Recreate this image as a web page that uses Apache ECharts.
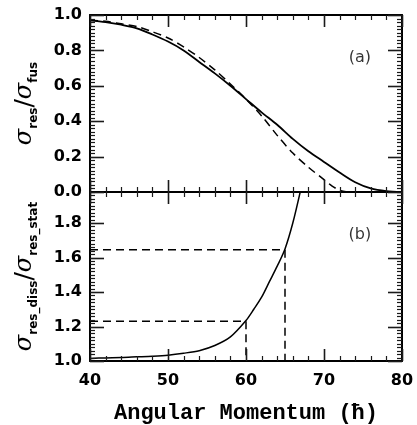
<!DOCTYPE html>
<html><head><meta charset="utf-8">
<script src="https://cdn.jsdelivr.net/npm/echarts@6/dist/echarts.min.js"></script>
<style>html,body{margin:0;padding:0;background:#fff}#c{width:417px;height:425px}</style>
</head><body><div id="c"></div>
<script>
// ---- data ----
const xTicks = [40, 50, 60, 70, 80];
const topYTicks = [0.0, 0.2, 0.4, 0.6, 0.8, 1.0];
const botYTicks = [1.0, 1.2, 1.4, 1.6, 1.8];

const momentumA = [40, 42, 44, 46, 48, 50, 52, 54, 56, 58, 60, 62, 64, 66, 68, 70, 72, 74, 76, 78, 80];
const resSolid  = [0.97, 0.96, 0.945, 0.925, 0.89, 0.85, 0.80, 0.735, 0.67, 0.60, 0.525, 0.45, 0.38, 0.30, 0.23, 0.17, 0.11, 0.055, 0.02, 0.005, 0.0];

const momentumDash = [40, 42, 44, 46, 48, 50, 52, 54, 56, 58, 60, 62, 64, 66, 68, 70, 71, 72, 73];
const resDashed    = [0.97, 0.965, 0.95, 0.935, 0.905, 0.87, 0.82, 0.76, 0.69, 0.61, 0.525, 0.43, 0.32, 0.22, 0.14, 0.07, 0.035, 0.01, 0.0];

const momentumB = [40, 42, 44, 46, 48, 50, 52, 54, 56, 58, 60, 61, 62, 63, 64, 65, 66, 67];
const ratioB    = [1.015, 1.018, 1.02, 1.024, 1.028, 1.034, 1.045, 1.06, 1.09, 1.14, 1.235, 1.30, 1.37, 1.46, 1.55, 1.65, 1.80, 1.99];

const refX = [60, 65];
const refY = [1.23, 1.645];

const panelLabels = ['(a)', '(b)'];
const panelLabelPos = [[74.6, 0.76], [74.6, 1.73]];

// ---- styling ----
const tickFont = {fontFamily: 'DejaVu Sans', fontWeight: 'bold', fontSize: 16, color: '#000'};
const tickColor = '#1a1a1a';

function xAx(gridIndex, position, showLabel, name) {
  const ax = {
    type: 'value', gridIndex, position, min: 40, max: 80, interval: 10,
    axisLine: {show: true, onZero: false, lineStyle: {color: '#000', width: 2}},
    axisTick: {show: false},
    splitLine: {show: false},
    axisLabel: {show: !!showLabel, margin: 12}
  };
  if (showLabel) Object.assign(ax.axisLabel, tickFont);
  if (name) {
    ax.name = name; ax.nameLocation = 'middle'; ax.nameGap = 41;
    ax.nameTextStyle = {fontFamily: 'Liberation Mono', fontWeight: 'bold', fontSize: 22, color: '#000'};
  }
  return ax;
}
function yAx(gridIndex, position, showLabel, min, max, name) {
  const ax = {
    type: 'value', gridIndex, position, min, max, interval: 0.2,
    axisLine: {show: true, onZero: false, lineStyle: {color: '#000', width: 2}},
    axisTick: {show: false},
    splitLine: {show: false},
    axisLabel: {show: !!showLabel, margin: 8}
  };
  if (showLabel) Object.assign(ax.axisLabel, tickFont, {showMaxLabel: max === 1.0, formatter: v => v.toFixed(1)});
  if (name) {
    ax.name = name; ax.nameLocation = 'middle'; ax.nameGap = 50; ax.nameRotate = 90;
    ax.nameTextStyle = {
      color: '#000',
      rich: {
        s: {fontFamily: 'DejaVu Serif', fontStyle: 'italic', fontSize: 24, lineHeight: 30, color: '#000'},
        sl: {fontFamily: 'DejaVu Sans', fontSize: 25, lineHeight: 30, color: '#000'},
        sub: {fontFamily: 'DejaVu Sans', fontWeight: 'bold', fontSize: 12, lineHeight: 13, verticalAlign: 'bottom', color: '#000'}
      }
    };
  }
  return ax;
}

const zip = (xs, ys) => xs.map((x, i) => [x, ys[i]]);
const refLines = refX.map((x, i) => ({
  type: 'line', xAxisIndex: 2, yAxisIndex: 2, symbol: 'none',
  lineStyle: {color: '#000', width: 1.5, type: [8, 5]},
  data: [[40, refY[i]], [x, refY[i]], [x, 1.0]]
}));

const option = {
  animation: false,
  grid: [
    {left: 90, right: 15, top: 15, height: 177},
    {left: 90, right: 15, top: 192, height: 174}
  ],
  xAxis: [
    xAx(0, 'bottom', false),
    xAx(0, 'top', false),
    xAx(1, 'bottom', true, 'Angular Momentum (ħ)'),
    xAx(1, 'top', false)
  ],
  yAxis: [
    yAx(0, 'left', true, 0, 1.0, '{s|σ}{sub|res}{sl|/}{s|σ}{sub|fus}'),
    yAx(0, 'right', false, 0, 1.0),
    yAx(1, 'left', true, 1.0, 1.98, '{s|σ}{sub|res_diss}{sl|/}{s|σ}{sub|res_stat}'),
    yAx(1, 'right', false, 1.0, 1.98)
  ],
  series: [
    {type: 'line', xAxisIndex: 0, yAxisIndex: 0, symbol: 'none', smooth: 0.3,
      lineStyle: {color: '#000', width: 1.8}, data: zip(momentumA, resSolid)},
    {type: 'line', xAxisIndex: 0, yAxisIndex: 0, symbol: 'none', smooth: 0.3,
      lineStyle: {color: '#000', width: 1.5, type: [8, 5]}, data: zip(momentumDash, resDashed)},
    {type: 'line', xAxisIndex: 2, yAxisIndex: 2, symbol: 'none', smooth: 0.3,
      lineStyle: {color: '#000', width: 1.5}, data: zip(momentumB, ratioB)},
    ...refLines,
    {type: 'scatter', xAxisIndex: 0, yAxisIndex: 0, symbolSize: 0, data: [panelLabelPos[0]],
      label: {show: true, position: 'inside', formatter: panelLabels[0], fontFamily: 'DejaVu Sans', fontSize: 16, color: '#000'}},
    {type: 'scatter', xAxisIndex: 2, yAxisIndex: 2, symbolSize: 0, data: [panelLabelPos[1]],
      label: {show: true, position: 'inside', formatter: panelLabels[1], fontFamily: 'DejaVu Sans', fontSize: 16, color: '#000'}}
  ]
};
const chart = echarts.init(document.getElementById('c'));
chart.setOption(option);

// ---- tick marks (decoration), placed through the axes' own scales ----
const X_MINOR_STEP = 2, Y_MINOR_STEP = 0.02;
const marks = [];
function addTicks(xi, yi, yMin, yMax) {
  const px = v => chart.convertToPixel({xAxisIndex: xi}, v);
  const py = v => chart.convertToPixel({yAxisIndex: yi}, v);
  const l = px(40), r = px(80), b = py(yMin), t = py(yMax);
  const line = (x1, y1, x2, y2, w) => marks.push({type: 'line', silent: true, z: 100,
    shape: {x1, y1, x2, y2}, style: {stroke: tickColor, lineWidth: w}});
  const nx = Math.round((80 - 40) / X_MINOR_STEP);
  for (let k = 0; k <= nx; k++) {
    const v = 40 + k * X_MINOR_STEP;
    const major = xTicks.includes(v);
    const len = major ? 12 : 5, w = major ? 1.6 : 1.2, x = Math.round(px(v)) + 0.5;
    line(x, b, x, b - len, w);
    line(x, t, x, t + len, w);
  }
  const ny = Math.floor((yMax - yMin) / Y_MINOR_STEP + 1e-6);
  for (let k = 0; k <= ny; k++) {
    const v = +(yMin + k * Y_MINOR_STEP).toFixed(2);
    const q = (v - yMin) / 0.2;
    const major = Math.abs(q - Math.round(q)) < 1e-6;
    const len = major ? 14 : 5, w = major ? 1.6 : 1.2, y = Math.round(py(v)) + 0.5;
    line(l, y, l + len, y, w);
    line(r, y, r - len, y, w);
  }
}
addTicks(0, 0, 0, 1.0);
addTicks(2, 2, 1.0, 1.98);
chart.setOption({graphic: {elements: marks}});
</script>
</body></html>
